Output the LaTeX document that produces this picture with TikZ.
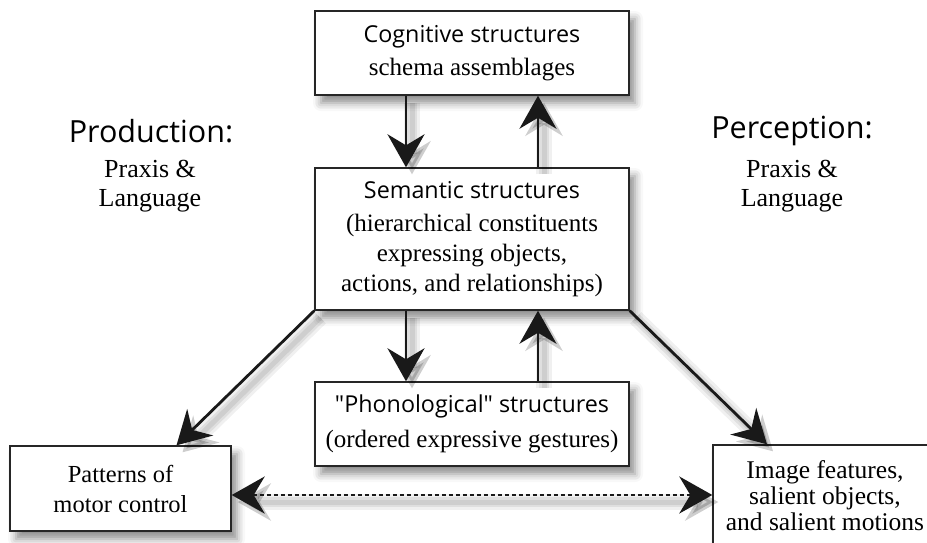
\documentclass[tikz,border=0pt]{standalone}
\usepackage{fontspec}
\setmainfont{Liberation Serif}
\newfontfamily\hdfont{Open Sans}
\usetikzlibrary{arrows.meta,shadows.blur}
\begin{document}
\begin{tikzpicture}[x=1pt,y=-1pt,
  box/.style={draw=black!85, line width=1.4pt, fill=white, inner sep=0pt,
    align=center, font=\fontsize{25}{30}\selectfont,
    blur shadow={shadow xshift=6pt, shadow yshift=-8pt, shadow blur radius=8pt, shadow opacity=45}},
  tip/.style={-{Stealth[length=33pt,width=37pt,inset=11pt]}},
  tips/.style={{Stealth[length=33pt,width=37pt,inset=11pt]}-{Stealth[length=33pt,width=37pt,inset=11pt]}},
  conn/.style={line width=2.8pt, draw=black!90,
    preaction={draw=black, solid, opacity=0.06, line width=16pt, transform canvas={shift={(6pt,-7pt)}}},
    preaction={draw=black, solid, opacity=0.07, line width=10pt, transform canvas={shift={(6pt,-7pt)}}},
    preaction={draw=black, solid, opacity=0.08, line width=5pt, transform canvas={shift={(6pt,-7pt)}}}},
  hd/.style={font=\hdfont\fontsize{30.5}{36}\selectfont},
  sub/.style={align=center, font=\fontsize{26}{29}\selectfont}]
\useasboundingbox (0,0) rectangle (927,542);
\clip (0,0) rectangle (927,542);

\node[box, minimum width=314pt, minimum height=84pt] (cog) at (472,53)
  {{\hdfont\fontsize{23.3}{30}\selectfont Cognitive structures}\\[3pt] schema assemblages};
\node[box, minimum width=314pt, minimum height=142pt] (sem) at (472,239)
  {{\hdfont\fontsize{23.3}{30}\selectfont Semantic structures}\\[3pt](hierarchical constituents\\ expressing objects,\\ actions, and relationships)};
\node[box, minimum width=314pt, minimum height=84pt] (pho) at (472,424)
  {{\hdfont\fontsize{23.3}{30}\selectfont "Phonological" structures}\\[5pt](ordered expressive gestures)};
\node[box, minimum width=221pt, minimum height=85pt, font=\fontsize{24.5}{30}\selectfont] (pat) at (120.5,488.5)
  {Patterns of\\ motor control};
\node[box, minimum width=224pt, minimum height=102pt, font=\fontsize{25.5}{26}\selectfont] (img) at (825,496)
  {Image features,\\ salient objects,\\ and salient motions};

\node[hd] (prod) at (151,131) {Production:};
\node[sub] (prodsub) at (150,186) {Praxis \&\\ Language};
\node[hd] (perc) at (792,131) {Perception:};
\node[sub] (percsub) at (792,186) {Praxis \&\\ Language};

\draw[conn, tip] ([xshift=-66pt]cog.south) -- ([xshift=-66pt]sem.north);
\draw[conn, tip] ([xshift=66pt]sem.north) -- ([xshift=66pt]cog.south);
\draw[conn, tip] ([xshift=-66pt]sem.south) -- ([xshift=-66pt]pho.north);
\draw[conn, tip] ([xshift=66pt]pho.north) -- ([xshift=66pt]sem.south);
\draw[conn, tip] (sem.south west) -- ([xshift=56pt]pat.north);
\draw[conn, tip] (sem.south east) -- ([xshift=-58pt]img.north);
\draw[conn, tips, dash pattern=on 4pt off 3pt] (pat.east |- 0,495) -- (img.west |- 0,495);
\end{tikzpicture}
\end{document}
